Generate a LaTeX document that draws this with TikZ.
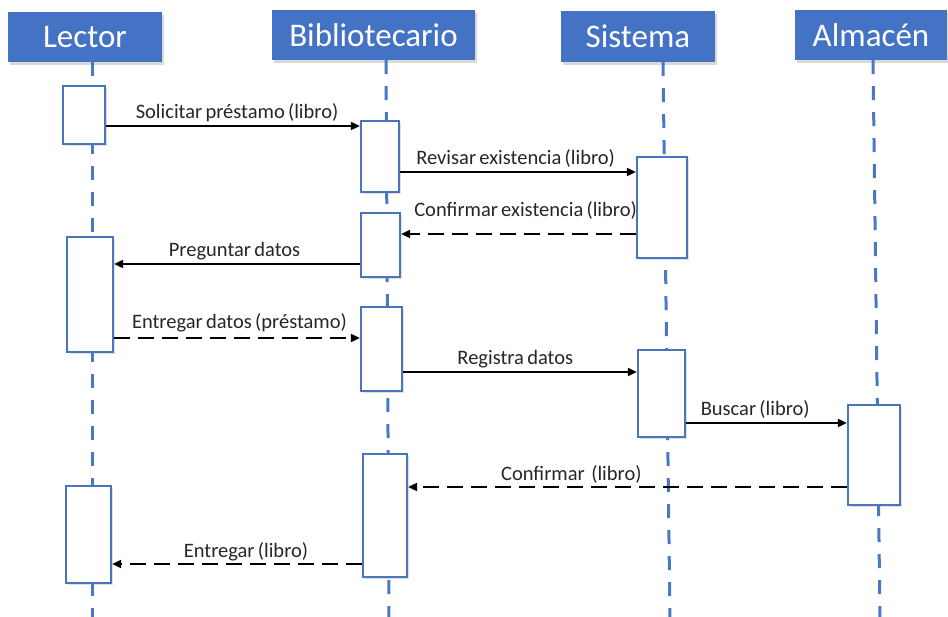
\documentclass[tikz,border=0pt]{standalone}
\usepackage{fontspec}
\setmainfont{Carlito}[WordSpace=0.7]
\usetikzlibrary{arrows.meta,shadows}
\definecolor{hdrblue}{HTML}{4472C4}
\definecolor{lineblue}{HTML}{4A78C6}
\definecolor{boxblue}{HTML}{4A74BC}
\definecolor{txtgray}{HTML}{262626}
\tikzset{
  header/.style={rectangle, fill=hdrblue, text=white, inner sep=0pt,
    font=\fontsize{33}{38}\selectfont,
    drop shadow={opacity=0.3, shadow xshift=2pt, shadow yshift=-3pt}},
  actbox/.style={rectangle, draw=boxblue, line width=2.2pt, fill=white, inner sep=0pt,
    drop shadow={opacity=0.25, shadow xshift=2pt, shadow yshift=-2pt}},
  lifeline/.style={draw=lineblue, line width=3pt, dash pattern=on 14pt off 12pt},
  msg/.style={draw=black, line width=1.8pt, -{Triangle[length=9pt,width=8pt]}},
  reply/.style={msg, dash pattern=on 16pt off 8pt},
  lbl/.style={anchor=base, text=txtgray, inner sep=0pt, yshift=7pt,
    font=\fontsize{20.5}{24}\selectfont}
}
\begin{document}
\begin{tikzpicture}[x=1pt, y=-1pt]
  \useasboundingbox (0,0) rectangle (948,617);

  % participants
  \node[header, minimum width=154pt, minimum height=50pt] (hL) at (85,37) {Lector};
  \node[header, minimum width=203pt, minimum height=50pt] (hB) at (373.5,35) {Bibliotecario};
  \node[header, minimum width=154pt, minimum height=51pt] (hS) at (638,36.5) {Sistema};
  \node[header, minimum width=152pt, minimum height=50pt] (hA) at (871,35) {Almacén};

  % lifelines
  \coordinate (tL) at (hL.south -| 92,0);   \coordinate (bL) at (92,620);
  \coordinate (tB) at (hB.south -| 386,0);  \coordinate (bB) at (389,620);
  \coordinate (tS) at (hS.south -| 663,0);  \coordinate (bS) at (670,620);
  \coordinate (tA) at (hA.south -| 873,0);  \coordinate (bA) at (880,620);
  \draw[lifeline] (tL) -- (bL);
  \draw[lifeline] (tB) -- (bB);
  \draw[lifeline] (tS) -- (bS);
  \draw[lifeline] (tA) -- (bA);

  % activation bars
  \node[actbox, minimum width=42pt, minimum height=58pt]  (L1) at (84,115) {};
  \node[actbox, minimum width=46pt, minimum height=115pt] (L2) at (90,294.5) {};
  \node[actbox, minimum width=45pt, minimum height=97pt]  (L3) at (88.5,534.5) {};
  \node[actbox, minimum width=38pt, minimum height=71pt]  (B1) at (380,156.5) {};
  \node[actbox, minimum width=39pt, minimum height=64pt]  (B2) at (380.5,245) {};
  \node[actbox, minimum width=41pt, minimum height=84pt]  (B3) at (381.5,349) {};
  \node[actbox, minimum width=44pt, minimum height=123pt] (B4) at (385,515.5) {};
  \node[actbox, minimum width=50pt, minimum height=101pt] (S1) at (662,207.5) {};
  \node[actbox, minimum width=47pt, minimum height=87pt]  (S2) at (661.5,393.5) {};
  \node[actbox, minimum width=52pt, minimum height=100pt] (A1) at (874,455) {};

  % messages
  \draw[msg] (L1.east |- 0,126) -- node[lbl, pos=0.516] {Solicitar préstamo (libro)} (B1.west |- 0,126);
  \draw[msg] (B1.east |- 0,172) -- node[lbl, pos=0.49] {Revisar existencia (libro)} (S1.west |- 0,172);
  \draw[reply] (S1.west |- 0,234) -- node[lbl, pos=0.47, yshift=10pt] {Confirmar existencia (libro)} (B2.east |- 0,234);
  \draw[msg] (B2.west |- 0,264) -- node[lbl, pos=0.51] {Preguntar datos} (L2.east |- 0,264);
  \draw[reply] (L2.east |- 0,338) -- node[lbl, pos=0.51, yshift=2pt] {Entregar datos (préstamo)} (B3.west |- 0,338);
  \draw[msg] (B3.east |- 0,372) -- node[lbl, pos=0.48] {Registra datos} (S2.west |- 0,372);
  \draw[msg] (S2.east |- 0,423) -- node[lbl, pos=0.43] {Buscar (libro)} (A1.west |- 0,423);
  \draw[reply] (A1.west |- 0,487) -- node[lbl, pos=0.628] {Confirmar~ (libro)} (B4.east |- 0,487);
  \draw[reply] (B4.west |- 0,564) -- node[lbl, pos=0.464] {Entregar (libro)} (L3.east |- 0,564);
\end{tikzpicture}
\end{document}
